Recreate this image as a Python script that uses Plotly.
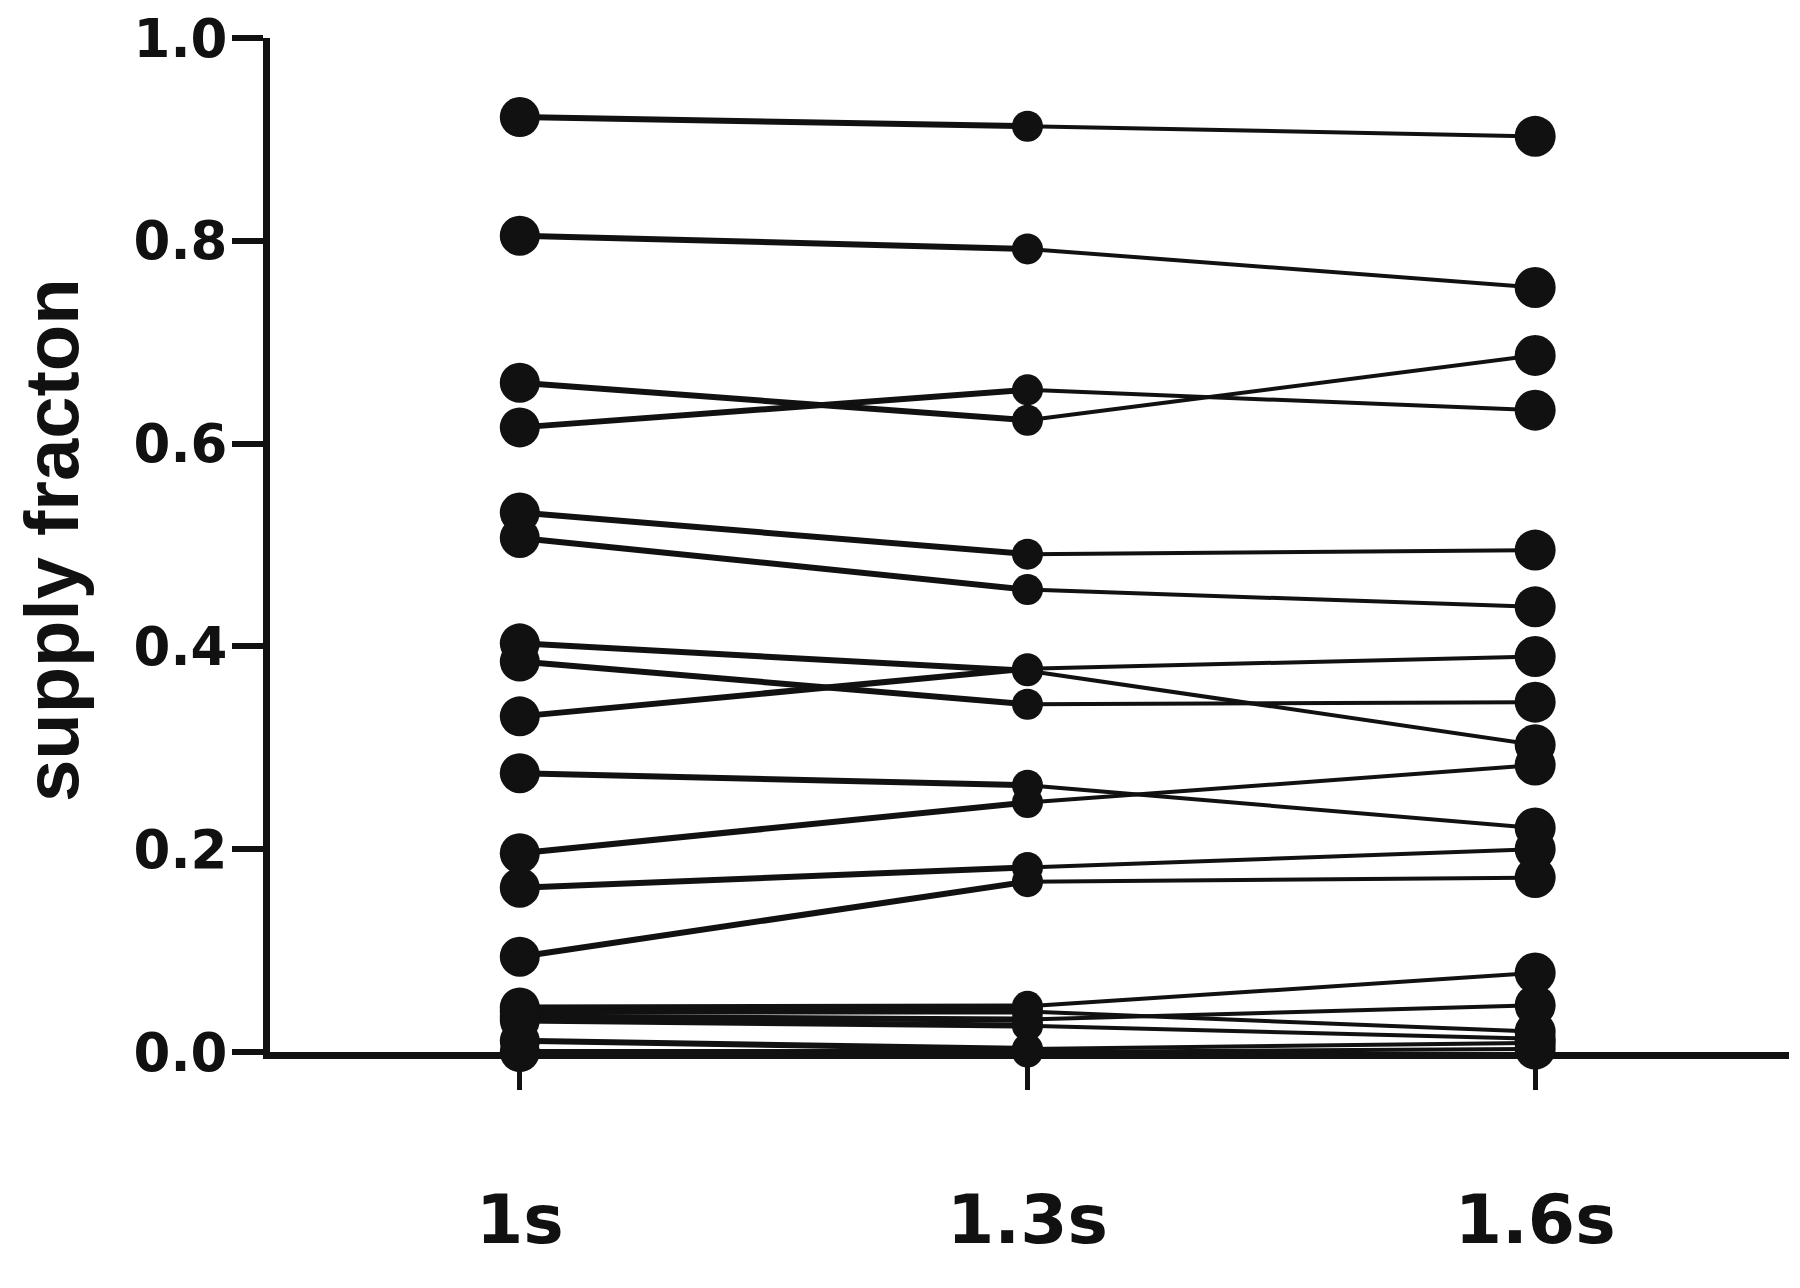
import plotly.graph_objects as go

# ---- data ----
categories = ["1s", "1.3s", "1.6s"]
t_1s = [0.922, 0.805, 0.660, 0.616, 0.532, 0.507, 0.403, 0.385, 0.331, 0.275,
        0.196, 0.162, 0.094, 0.044, 0.040, 0.035, 0.031, 0.011, 0.0]
t_13s = [0.913, 0.792, 0.623, 0.653, 0.491, 0.456, 0.376, 0.343, 0.378, 0.263,
         0.246, 0.182, 0.168, 0.045, 0.040, 0.032, 0.026, 0.003, 0.0]
t_16s = [0.903, 0.754, 0.687, 0.633, 0.495, 0.439, 0.303, 0.345, 0.390, 0.221,
         0.283, 0.200, 0.172, 0.078, 0.020, 0.046, 0.013, 0.009, 0.003]
y_ticks = [0.0, 0.2, 0.4, 0.6, 0.8, 1.0]
y_title = "supply fracton"

INK = "#111111"
fig = go.Figure()

# connecting lines (left segment slightly heavier than right segment)
for a, b, c in zip(t_1s, t_13s, t_16s):
    fig.add_trace(go.Scatter(x=categories[0:2], y=[a, b], mode="lines",
                             line=dict(color=INK, width=6), cliponaxis=False,
                             showlegend=False, hoverinfo="skip"))
    fig.add_trace(go.Scatter(x=categories[1:3], y=[b, c], mode="lines",
                             line=dict(color=INK, width=4), cliponaxis=False,
                             showlegend=False, hoverinfo="skip"))

# markers
for cat, vals, size in zip(categories, [t_1s, t_13s, t_16s], [40, 31, 41]):
    fig.add_trace(go.Scatter(x=[cat] * len(vals), y=vals, mode="markers",
                             marker=dict(color=INK, size=size, line=dict(width=0)),
                             cliponaxis=False, showlegend=False))

W, H = 1792, 1280
ML, MR, MT, MB = 262, 11, 30, 236
PW, PH = W - ML - MR, H - MT - MB

fig.update_layout(
    width=W, height=H,
    margin=dict(l=ML, r=MR, t=MT, b=MB),
    paper_bgcolor="white", plot_bgcolor="white",
    xaxis=dict(
        type="category", range=[-0.492, 2.5], automargin=False,
        showline=True, linewidth=7, linecolor=INK,
        ticks="outside", ticklen=31, tickwidth=5, tickcolor=INK,
        showgrid=False, zeroline=False,
        tickfont=dict(family="DejaVu Sans", size=68, color=INK, weight="bold"),
        ticklabelstandoff=71,
    ),
    yaxis=dict(
        range=[0, 1], automargin=False,
        tickvals=y_ticks, tickformat=".1f",
        showline=True, linewidth=7, linecolor=INK,
        ticks="outside", ticklen=31, tickwidth=6, tickcolor=INK,
        showgrid=False, zeroline=False,
        tickfont=dict(family="DejaVu Sans", size=53, color=INK, weight="bold"),
        ticklabelstandoff=-6, ticklabeloverflow="allow",
    ),
    annotations=[dict(
        text=y_title, textangle=-90,
        xref="paper", yref="paper",
        x=(43 - ML) / PW, y=(MT + PH - 532) / PH,
        xanchor="center", yanchor="middle", showarrow=False,
        font=dict(family="Liberation Sans", size=76, color=INK, weight="bold"),
    )],
)

fig.write_html("out.html")
